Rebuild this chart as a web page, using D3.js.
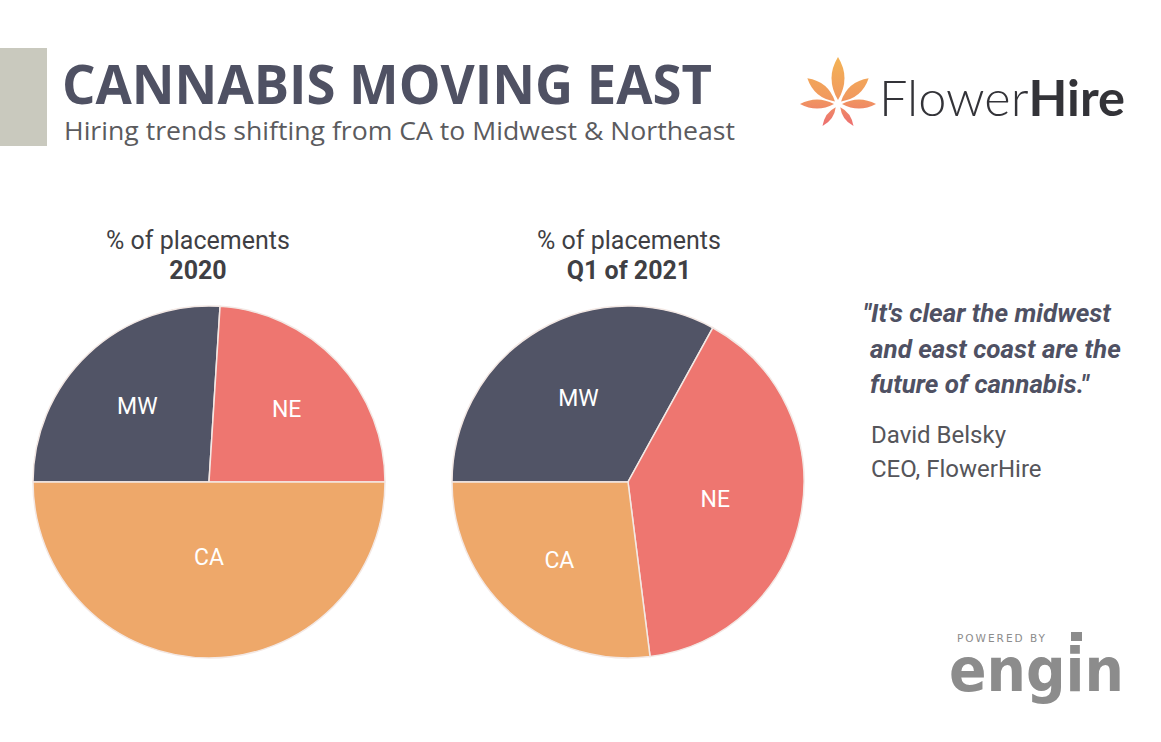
<!DOCTYPE html>
<html>
<head>
<meta charset="utf-8">
<script src="https://cdn.jsdelivr.net/npm/d3@7"></script>
<style>
  body { margin: 0; background: #fff; }
  svg { display: block; }
</style>
</head>
<body>
<div id="chart"></div>
<script>
// slice order is clockwise starting from 9 o'clock
const regions = ['MW', 'NE', 'CA'];
const share2020 = [26, 24, 50];
const shareQ1_2021 = [33, 40, 27];
const pieTitles = ['2020', 'Q1 of 2021'];
const regionColors = ['#515466', '#ee7670', '#eea86a'];

const quoteLines = ['"It\'s clear the midwest', 'and east coast are the', 'future of cannabis."'];
const authorLines = ['David Belsky', 'CEO, FlowerHire'];

const width = 1161;
const height = 742;

const svg = d3.select('#chart').append('svg')
  .attr('width', width)
  .attr('height', height);

svg.append('rect').attr('width', width).attr('height', height).attr('fill', '#fff');

// header
svg.append('rect')
  .attr('x', 0).attr('y', 48)
  .attr('width', 47).attr('height', 98)
  .attr('fill', '#c9c9be');

svg.append('text')
  .attr('x', 62).attr('y', 104)
  .attr('font-family', '"Open Sans", sans-serif')
  .attr('font-weight', 700)
  .attr('font-size', 54)
  .attr('textLength', 650)
  .attr('lengthAdjust', 'spacingAndGlyphs')
  .attr('fill', '#4f5163')
  .text('CANNABIS MOVING EAST');

svg.append('text')
  .attr('x', 64).attr('y', 140)
  .attr('font-family', '"Open Sans", sans-serif')
  .attr('font-size', 26)
  .attr('textLength', 671)
  .attr('lengthAdjust', 'spacingAndGlyphs')
  .attr('fill', '#5b5b5e')
  .text('Hiring trends shifting from CA to Midwest & Northeast');

// FlowerHire logo
const grad = svg.append('defs').append('linearGradient')
  .attr('id', 'petal').attr('gradientUnits', 'userSpaceOnUse')
  .attr('x1', 0).attr('y1', 58).attr('x2', 0).attr('y2', 128);
grad.append('stop').attr('offset', '0%').attr('stop-color', '#f3b255');
grad.append('stop').attr('offset', '55%').attr('stop-color', '#f19a5e');
grad.append('stop').attr('offset', '100%').attr('stop-color', '#ec6b72');

const flowerCenter = [838, 104];
const petals = [
  { a: 0, len: 47, w: 13 },
  { a: -50, len: 40, w: 11 },
  { a: 50, len: 40, w: 11 },
  { a: -90, len: 38, w: 9 },
  { a: 90, len: 38, w: 9 },
  { a: -145, len: 27, w: 6 },
  { a: 145, len: 27, w: 6 }
];
function petalPath(d) {
  const rad = (d.a * Math.PI) / 180;
  const pt = (x, y) => [
    flowerCenter[0] + x * Math.cos(rad) - y * Math.sin(rad),
    flowerCenter[1] + x * Math.sin(rad) + y * Math.cos(rad)
  ];
  const p0 = pt(0, -4);
  const c1 = pt(d.w, -d.len * 0.55);
  const tip = pt(0, -d.len);
  const c2 = pt(-d.w, -d.len * 0.55);
  return `M${p0}Q${c1} ${tip}Q${c2} ${p0}Z`;
}
svg.append('g')
  .selectAll('path')
  .data(petals)
  .join('path')
  .attr('d', petalPath)
  .attr('fill', 'url(#petal)');

const brand = svg.append('text')
  .attr('x', 879).attr('y', 116)
  .attr('font-family', 'Lato, "Open Sans", sans-serif')
  .attr('font-size', 50)
  .attr('textLength', 246)
  .attr('lengthAdjust', 'spacingAndGlyphs')
  .attr('fill', '#333338');
brand.append('tspan').attr('font-weight', 300).text('Flower');
brand.append('tspan').attr('font-weight', 700).text('Hire');

// pies
const radius = 176;
const pie = d3.pie()
  .sort(null)
  .startAngle(-Math.PI / 2)
  .endAngle(1.5 * Math.PI);
const arc = d3.arc().innerRadius(0).outerRadius(radius);

// area centroid of a sector, used for label placement
function labelPos(d) {
  const half = (d.endAngle - d.startAngle) / 2;
  const mid = d.startAngle + half;
  const r = (2 * radius * Math.sin(half)) / (3 * half);
  return [r * Math.sin(mid), -r * Math.cos(mid)];
}

const pies = [
  { values: share2020, cx: 209, title: pieTitles[0], titleX: 198 },
  { values: shareQ1_2021, cx: 628, title: pieTitles[1], titleX: 629 }
];

pies.forEach((p) => {
  const g = svg.append('g').attr('transform', `translate(${p.cx},482)`);
  const slices = pie(p.values);

  g.selectAll('path')
    .data(slices)
    .join('path')
    .attr('d', arc)
    .attr('fill', (d, i) => regionColors[i])
    .attr('stroke', '#f3e8e4')
    .attr('stroke-width', 1.5);

  g.selectAll('text')
    .data(slices)
    .join('text')
    .attr('transform', (d) => `translate(${labelPos(d)})`)
    .attr('text-anchor', 'middle')
    .attr('dy', '0.35em')
    .attr('font-family', 'Roboto, sans-serif')
    .attr('font-size', 23)
    .attr('fill', '#fff')
    .text((d, i) => regions[i]);

  const head = svg.append('text')
    .attr('x', p.titleX)
    .attr('text-anchor', 'middle')
    .attr('font-family', 'Roboto, sans-serif')
    .attr('font-size', 25)
    .attr('fill', '#3f3f44');
  head.append('tspan').attr('x', p.titleX).attr('y', 249).text('% of placements');
  head.append('tspan').attr('x', p.titleX).attr('y', 279)
    .attr('font-weight', 700).text(p.title);
});

// quote
svg.append('g')
  .selectAll('text')
  .data(quoteLines)
  .join('text')
  .attr('x', (d, i) => (i === 0 ? 863 : 870))
  .attr('y', (d, i) => 322 + i * 35.5)
  .attr('font-family', 'Roboto, sans-serif')
  .attr('font-weight', 700)
  .attr('font-style', 'italic')
  .attr('font-size', 26)
  .attr('fill', '#4f5163')
  .text((d) => d);

svg.append('g')
  .selectAll('text')
  .data(authorLines)
  .join('text')
  .attr('x', 871)
  .attr('y', (d, i) => 443 + i * 34)
  .attr('font-family', 'Roboto, sans-serif')
  .attr('font-size', 24)
  .attr('fill', '#55555a')
  .text((d) => d);

// powered by engin
svg.append('text')
  .attr('x', 957).attr('y', 642)
  .attr('font-family', '"DejaVu Sans", sans-serif')
  .attr('font-size', 10.5)
  .attr('textLength', 88)
  .attr('fill', '#8c8c8c')
  .text('POWERED BY');
svg.append('rect')
  .attr('x', 1071).attr('y', 632)
  .attr('width', 11).attr('height', 9)
  .attr('fill', '#8c8c8c');
svg.append('text')
  .attr('x', 949).attr('y', 691)
  .attr('font-family', '"DejaVu Sans", sans-serif')
  .attr('font-weight', 700)
  .attr('font-size', 60)
  .attr('textLength', 175)
  .attr('lengthAdjust', 'spacingAndGlyphs')
  .attr('fill', '#8c8c8c')
  .text('engin');
</script>
</body>
</html>
